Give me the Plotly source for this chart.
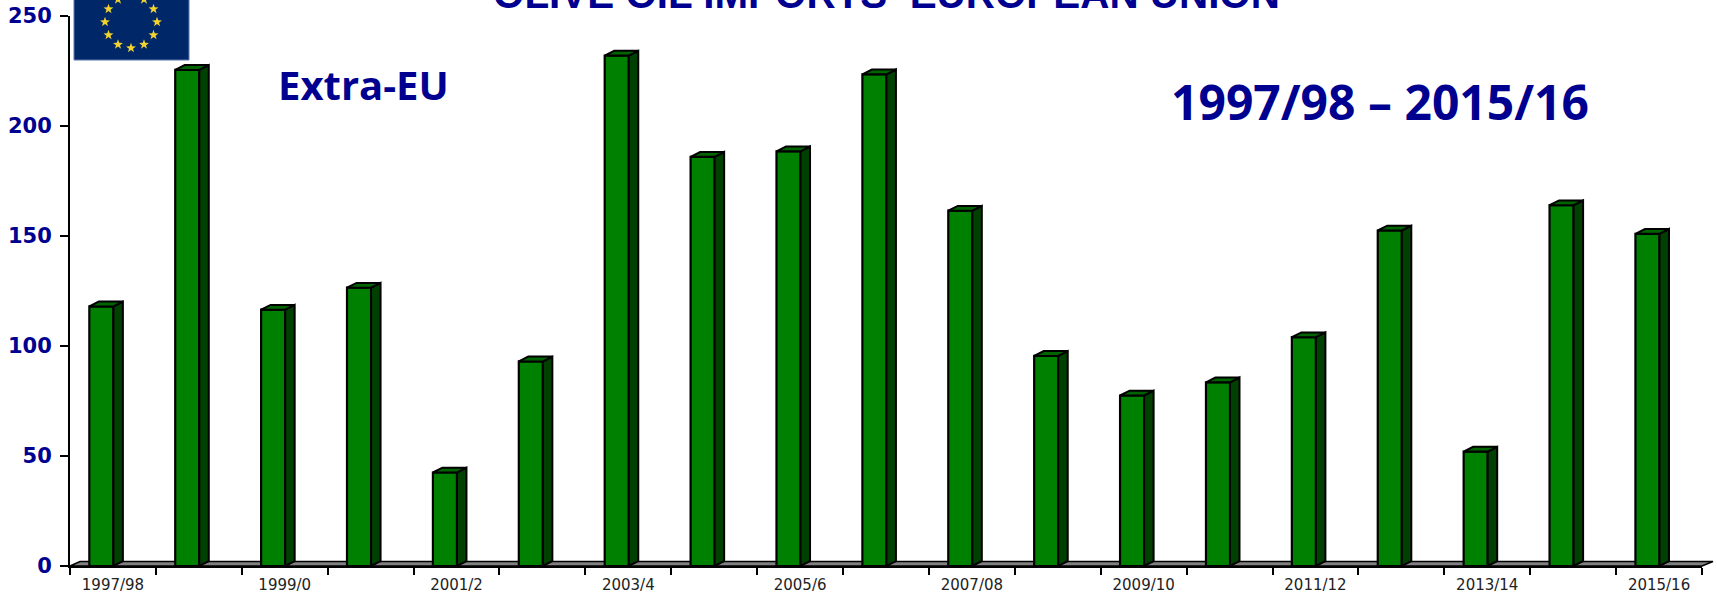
import math
import plotly.graph_objects as go

seasons = ["1997/98", "1998/99", "1999/0", "2000/1", "2001/2", "2002/3", "2003/4", "2004/5", "2005/6", "2006/7",
           "2007/08", "2008/09", "2009/10", "2010/11", "2011/12", "2012/13", "2013/14", "2014/15", "2015/16"]
imports = [118, 225.5, 116.5, 126.5, 42.5, 93, 232, 186, 188.5, 223.5,
           161.5, 95.5, 77.5, 83.5, 104, 152.5, 52, 164, 151]

W, H = 1717, 594
L, R, T, B = 70, 1702, 16, 566
pw, ph = R - L, B - T
n = len(seasons)
NAVY = "#000090"

# 3-D look, in axis units
shift = -0.135
width = 0.28
dx = 9.5 / (pw / n)
dy = 4.8 / (ph / 250)

centers = [i + 0.5 + shift for i in range(n)]
side_x, side_y, top_x, top_y = [], [], [], []
for c, v in zip(centers, imports):
    a, b = c - width / 2, c + width / 2
    side_x += [b, b + dx, b + dx, b, b, None]
    side_y += [0, dy, v + dy, v, 0, None]
    top_x += [a, a + dx, b + dx, b, a, None]
    top_y += [v, v + dy, v + dy, v, v, None]

fig = go.Figure()
fig.add_trace(go.Bar(x=centers, y=imports, width=width, marker=dict(color="#008000", line=dict(color="black", width=2.2))))
fig.add_trace(go.Scatter(x=side_x, y=side_y, mode="lines", fill="toself", fillcolor="#004000",
                         line=dict(color="black", width=2), cliponaxis=False, hoverinfo="skip"))
fig.add_trace(go.Scatter(x=top_x, y=top_y, mode="lines", fill="toself", fillcolor="#006400",
                         line=dict(color="black", width=2), cliponaxis=False, hoverinfo="skip"))


def px(x):
    return (x - L) / pw


def py(y):
    return (B - y) / ph


floor = (f"M {px(70)} {py(566)} L {px(80)} {py(561.5)} L {px(1713)} {py(561.5)} "
         f"L {px(1702)} {py(566)} Z")
shapes = [
    dict(type="path", xref="paper", yref="paper", path=floor, fillcolor="#808080",
         line=dict(color="black", width=1.5), layer="below"),
    dict(type="rect", xref="paper", yref="paper", x0=px(74), x1=px(189), y0=py(60), y1=py(-60),
         fillcolor="#002868", line=dict(color="#5a78b0", width=1), layer="below"),
]
# EU flag stars
for k in range(12):
    ang = math.radians(30 * k)
    sx, sy = 131 + 26 * math.sin(ang), 22 - 26 * math.cos(ang)
    pts = []
    for j in range(10):
        r = 5.2 if j % 2 == 0 else 2.1
        t = math.radians(36 * j)
        pts.append((px(sx + r * math.sin(t)), py(sy - r * math.cos(t))))
    path = "M " + " L ".join(f"{a} {b}" for a, b in pts) + " Z"
    shapes.append(dict(type="path", xref="paper", yref="paper", path=path, fillcolor="#F2D42E",
                       line=dict(width=0), layer="below"))

annotations = [
    dict(text="<b>OLIVE OIL IMPORTS  EUROPEAN UNION</b>", x=px(886), y=py(-6), xref="paper", yref="paper",
         showarrow=False, font=dict(family="Liberation Sans", size=40.4, color=NAVY), xanchor="center", yanchor="middle"),
    dict(text="<b>Extra-EU</b>", x=px(363), y=py(84), xref="paper", yref="paper", showarrow=False,
         font=dict(family="Open Sans", size=40, color=NAVY), xanchor="center", yanchor="middle"),
    dict(text="<b>1997/98 – 2015/16</b>", x=px(1380), y=py(101), xref="paper", yref="paper", showarrow=False,
         font=dict(family="Open Sans", size=48, color=NAVY), xanchor="center", yanchor="middle"),
]

fig.update_layout(
    width=W, height=H, showlegend=False, plot_bgcolor="white", paper_bgcolor="white",
    margin=dict(l=L, r=W - R, t=T, b=H - B, pad=0, autoexpand=False),
    shapes=shapes, annotations=annotations,
    xaxis=dict(range=[0, n], tickmode="array", tickvals=[i + 0.5 for i in range(0, n, 2)],
               ticktext=seasons[::2], ticks="", showgrid=False, zeroline=False, showline=True,
               linecolor="black", linewidth=2, ticklabelstandoff=4, automargin=False,
               tickfont=dict(family="DejaVu Sans", size=15, color="#222222"),
               minor=dict(tickmode="linear", tick0=0, dtick=1, ticks="outside", ticklen=7, tickwidth=2,
                          tickcolor="black", showgrid=False)),
    yaxis=dict(range=[0, 250], tickvals=[0, 50, 100, 150, 200, 250], ticks="outside", ticklen=8, tickwidth=2,
               tickcolor="black", showline=True, linecolor="black", linewidth=2, showgrid=False, zeroline=False,
               automargin=False, ticklabelstandoff=4,
               tickfont=dict(family="DejaVu Sans", size=21, color=NAVY, weight="bold")),
)
fig.write_html("out.html", post_script="document.body.style.margin='0';", config={"displayModeBar": False})
